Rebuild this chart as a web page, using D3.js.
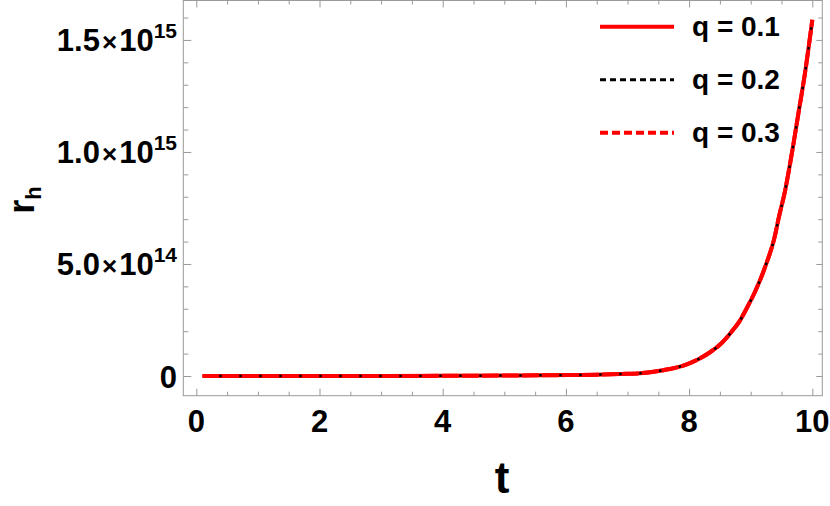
<!DOCTYPE html>
<html lang="en">
<head>
<meta charset="UTF-8">
<title>r_h vs t</title>
<script src="https://d3js.org/d3.v7.min.js"></script>
<style>
  html, body { margin: 0; padding: 0; background: #fff; }
  svg { display: block; font-family: 'Liberation Sans', Arial, sans-serif; font-weight: bold; }
  .tick line { stroke: #999; }
</style>
</head>
<body>
<svg id="chart" width="830" height="506"></svg>
<script>
// ---- data ----
const tValues = [0.1, 1, 2, 3, 4, 5, 6, 6.5, 7, 7.2, 7.45, 7.66, 7.93, 8.15, 8.34, 8.52,
                 8.69, 8.82, 8.94, 9.07, 9.25, 9.39, 9.45, 9.56, 9.69, 9.77, 9.88, 10];
const rQ1 = [0, 5e10, 1e11, 3e11, 8e11, 2e12, 4e12, 6e12, 1e13, 1.2e13, 2e13, 3e13, 4.9e13,
             7.5e13, 1.06e14, 1.45e14, 1.98e14, 2.45e14, 3.05e14, 3.76e14, 4.99e14, 6.22e14,
             7.0e14, 8.3e14, 1.03e15, 1.165e15, 1.35e15, 1.59e15];
const rQ2 = [0, 5e10, 1e11, 3e11, 8e11, 2e12, 4e12, 6e12, 1e13, 1.2e13, 2e13, 3e13, 4.9e13,
             7.5e13, 1.06e14, 1.45e14, 1.98e14, 2.45e14, 3.05e14, 3.76e14, 4.99e14, 6.22e14,
             7.0e14, 8.3e14, 1.03e15, 1.165e15, 1.35e15, 1.59e15];
const rQ3 = [0, 5e10, 1e11, 3e11, 8e11, 2e12, 4e12, 6e12, 1e13, 1.2e13, 2e13, 3e13, 4.9e13,
             7.5e13, 1.06e14, 1.45e14, 1.98e14, 2.45e14, 3.05e14, 3.76e14, 4.99e14, 6.22e14,
             7.0e14, 8.3e14, 1.03e15, 1.165e15, 1.35e15, 1.59e15];
const seriesNames = ["q = 0.1", "q = 0.2", "q = 0.3"];

const xTicks = [0, 2, 4, 6, 8, 10];
const yTicks = [0, 5e14, 1e15, 1.5e15];
const yTickMantissa = ["0", "5.0", "1.0", "1.5"];
const yTickExponent = ["", "14", "15", "15"];

// ---- layout ----
const frame = { left: 183.3, right: 822.3, top: 0.5, bottom: 395.7 };
const svg = d3.select("#chart");

const x = d3.scaleLinear().domain([-0.211, 10.162]).range([frame.left, frame.right]);
const y = d3.scaleLinear().domain([-0.879e14, 16.76e14]).range([frame.bottom, frame.top]);

// ---- ticks on all four sides ----
const xMinor = d3.range(0, 10.01, 0.5).filter(v => !xTicks.includes(v));
const yMinor = d3.range(0, 16.01e14, 1e14).filter(v => !yTicks.some(t => Math.abs(t - v) < 1));

const addAxis = (axisFn, scale, values, size, tr) => {
  const g = svg.append("g").attr("transform", tr)
    .call(axisFn(scale).tickValues(values).tickSize(-size).tickFormat(""));
  g.select(".domain").remove();
  g.selectAll(".tick line").attr("stroke", "#999");
};
addAxis(d3.axisBottom, x, xTicks, 7, `translate(0,${frame.bottom})`);
addAxis(d3.axisBottom, x, xMinor, 4, `translate(0,${frame.bottom})`);
addAxis(d3.axisTop, x, xTicks, 7, `translate(0,${frame.top})`);
addAxis(d3.axisTop, x, xMinor, 4, `translate(0,${frame.top})`);
addAxis(d3.axisLeft, y, yTicks, 8, `translate(${frame.left},0)`);
addAxis(d3.axisLeft, y, yMinor, 5, `translate(${frame.left},0)`);
addAxis(d3.axisRight, y, yTicks, 6, `translate(${frame.right},0)`);
addAxis(d3.axisRight, y, yMinor, 4, `translate(${frame.right},0)`);

svg.append("rect")
  .attr("x", frame.left).attr("y", frame.top)
  .attr("width", frame.right - frame.left).attr("height", frame.bottom - frame.top)
  .attr("fill", "none").attr("stroke", "#999").attr("stroke-width", 1);

// ---- tick labels ----
svg.append("g").selectAll("text").data(xTicks).join("text")
  .attr("x", d => x(d)).attr("y", 432)
  .attr("text-anchor", "middle").attr("font-size", 31)
  .text(d => d);

const yLab = svg.append("g").selectAll("text").data(yTicks).join("text")
  .attr("x", 177).attr("y", d => y(d) + 11.5)
  .attr("text-anchor", "end").attr("font-size", 31);
yLab.each(function(d, i) {
  const t = d3.select(this);
  t.append("tspan").text(yTickMantissa[i]);
  if (yTickExponent[i]) {
    t.append("tspan").attr("font-size", 26).attr("dx", 2).text("\u00d7");
    t.append("tspan").attr("dx", 2).text("10");
    t.append("tspan").attr("font-size", 21).attr("dy", -13).text(yTickExponent[i]);
  }
});

// ---- axis titles ----
svg.append("text").attr("x", 502).attr("y", 493)
  .attr("text-anchor", "middle").attr("font-size", 44).text("t");

const yTitle = svg.append("text")
  .attr("transform", "translate(34,200) rotate(-90)")
  .attr("text-anchor", "middle").attr("font-size", 36);
yTitle.append("tspan").text("r");
yTitle.append("tspan").attr("font-size", 22).attr("dy", 7).text("h");

// ---- curves ----
// black dots are phased so that only the ones in the gaps of the red dashes show
const line = d3.line().x(d => x(d[0])).y(d => y(d[1])).curve(d3.curveMonotoneX);
const styles = [
  { color: "#ff0000", width: 4, dash: null, offset: 0, legendDash: null },
  { color: "#000000", width: 2.5, dash: "2.5,7.5", offset: -16.8, legendDash: "6,4" },
  { color: "#ff0000", width: 4, dash: "16,4", offset: 0, legendDash: "8,4" }
];
const series = [rQ1, rQ2, rQ3];

svg.append("clipPath").attr("id", "plot-clip").append("rect")
  .attr("x", frame.left).attr("y", frame.top)
  .attr("width", frame.right - frame.left).attr("height", frame.bottom - frame.top);

svg.append("g").attr("clip-path", "url(#plot-clip)")
  .selectAll("path").data(series).join("path")
  .attr("d", vals => line(tValues.map((t, i) => [t, vals[i]])))
  .attr("fill", "none")
  .attr("stroke", (d, i) => styles[i].color)
  .attr("stroke-width", (d, i) => styles[i].width)
  .attr("stroke-dasharray", (d, i) => styles[i].dash)
  .attr("stroke-dashoffset", (d, i) => styles[i].offset);

// ---- legend ----
const legend = svg.append("g").selectAll("g").data(seriesNames).join("g")
  .attr("transform", (d, i) => `translate(600,${26.7 + i * 53})`);
legend.append("line")
  .attr("x1", 0).attr("x2", 74).attr("y1", 0).attr("y2", 0)
  .attr("stroke", (d, i) => styles[i].color)
  .attr("stroke-width", (d, i) => i === 1 ? 3 : styles[i].width)
  .attr("stroke-dasharray", (d, i) => styles[i].legendDash);
legend.append("text")
  .attr("x", 92).attr("y", 9).attr("font-size", 28).text(d => d);
</script>
</body>
</html>
